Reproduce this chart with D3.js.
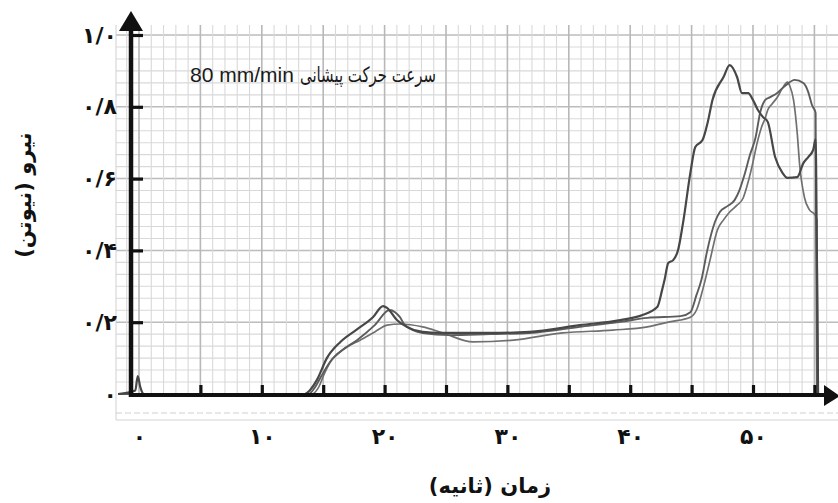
<!DOCTYPE html>
<html>
<head>
<meta charset="utf-8">
<script src="https://cdn.jsdelivr.net/npm/d3@7"></script>
<style>
body { margin:0; background:#fff; }
</style>
</head>
<body>
<script>
// force (N) vs time (s), three runs at 80 mm/min
const curveA = [[-1.7,0],[-0.3,0.01],[-0.1,0.05],[0.1,0.02],[0.4,0],[13.5,0],[13.9,0.01],[14.5,0.04],[15.3,0.10],[16.4,0.145],[17.75,0.18],[19.05,0.214],[19.87,0.245],[20.2,0.24],[21.0,0.206],[21.8,0.187],[23.1,0.173],[24.5,0.17],[28.6,0.17],[31.8,0.173],[35.9,0.192],[39.2,0.206],[41.0,0.22],[42.2,0.242],[42.6,0.29],[42.8,0.318],[43.1,0.365],[43.5,0.373],[43.9,0.401],[44.3,0.476],[44.9,0.616],[45.3,0.688],[45.9,0.708],[46.3,0.755],[46.7,0.819],[47.6,0.883],[48.1,0.916],[48.7,0.883],[49.1,0.838],[49.6,0.838],[50.0,0.819],[50.4,0.791],[50.8,0.772],[51.2,0.758],[51.8,0.66],[52.4,0.616],[52.8,0.602],[53.6,0.604],[54.1,0.643],[54.5,0.66],[54.9,0.68],[55.1,0.71],[55.2,0.40],[55.3,0]];
const curveB = [[-1.7,0],[13.8,0],[14.3,0.017],[14.9,0.053],[15.55,0.089],[16.6,0.123],[17.75,0.15],[19.2,0.192],[20.4,0.234],[20.85,0.228],[21.25,0.214],[21.65,0.192],[23.1,0.17],[25.3,0.164],[28.6,0.167],[31.8,0.17],[35.9,0.187],[39.2,0.201],[41.4,0.212],[44.1,0.217],[44.9,0.228],[45.4,0.276],[45.8,0.318],[46.25,0.396],[46.9,0.479],[47.3,0.507],[47.95,0.524],[48.5,0.54],[48.9,0.568],[49.3,0.61],[49.75,0.666],[50.2,0.713],[50.6,0.786],[51.0,0.819],[51.4,0.827],[51.95,0.838],[52.6,0.858],[53.4,0.875],[54.1,0.866],[54.5,0.841],[54.8,0.805],[55.1,0.783],[55.2,0]];
const curveC = [[-1.7,0],[14.1,0],[14.6,0.017],[15.15,0.061],[15.8,0.10],[16.8,0.128],[18.0,0.15],[19.2,0.173],[20.2,0.192],[21.25,0.195],[23.1,0.187],[24.75,0.17],[27.2,0.145],[30.5,0.15],[34.5,0.17],[38.6,0.178],[41.4,0.187],[43.2,0.201],[44.9,0.214],[45.4,0.234],[45.9,0.29],[46.5,0.373],[47.1,0.457],[47.6,0.485],[48.1,0.507],[48.7,0.526],[49.2,0.546],[49.6,0.59],[50.0,0.646],[50.3,0.694],[50.7,0.744],[51.0,0.769],[51.2,0.791],[51.55,0.808],[51.95,0.825],[52.4,0.852],[52.8,0.869],[53.0,0.858],[53.3,0.819],[53.6,0.727],[53.8,0.638],[54.2,0.546],[54.6,0.513],[55.05,0.499],[55.2,0.485],[55.3,0]];

const xTicks = [0, 10, 20, 30, 40, 50];
const xLabels = ["۰", "۱۰", "۲۰", "۳۰", "۴۰", "۵۰"];
const xMinorTicks = [5, 10, 15, 20, 25, 30, 35, 40, 45, 50, 55];
const yTicks = [0, 0.2, 0.4, 0.6, 0.8, 1.0];
const yLabels = ["۰", "۰/۲", "۰/۴", "۰/۶", "۰/۸", "۱/۰"];

const titleFa = "سرعت حرکت  پیشانی";
const titleEn = "80 mm/min";
const xTitle = "زمان (ثانیه)";
const yTitle = "نیرو (نیوتن)";

let width = 838, height = 503;

var svg = d3.select("body")
.append("svg")
.attr("width", width)
.attr("height", height);

let x = d3.scaleLinear().domain([0, 50]).range([139, 753]);
let y = d3.scaleLinear().domain([0, 1]).range([394, 35]);

const axisX = 131;   // where the drawn y axis sits
const paperTop = 25, paperLeft = 116;

// graph paper
let paper = svg.append("g");

paper.selectAll("line.h")
.data(d3.range(1, 31))
.join("line")
.attr("x1", paperLeft).attr("x2", width)
.attr("y1", d => y(d/30)).attr("y2", d => y(d/30))
.attr("stroke", d => d%6 === 0 ? "#bcbcbc" : "#d9d9d9")
.attr("stroke-width", d => d%6 === 0 ? 1.5 : 1.1);

paper.selectAll("line.v")
.data(d3.range(-1, 58))
.join("line")
.attr("x1", d => x(d)).attr("x2", d => x(d))
.attr("y1", paperTop).attr("y2", y(0))
.attr("stroke", d => d%5 === 0 ? "#b8b8b8" : "#d9d9d9")
.attr("stroke-width", d => d%5 === 0 ? 1.6 : 1.1);

// strip under the axis
paper.append("line")
.attr("x1", paperLeft).attr("x2", paperLeft)
.attr("y1", paperTop).attr("y2", 420)
.attr("stroke", "#d0d0d0");
paper.append("line")
.attr("x1", paperLeft).attr("x2", width)
.attr("y1", 420).attr("y2", 420)
.attr("stroke", "#d4d4d4").attr("stroke-width", 1.2);
paper.append("line")
.attr("x1", paperLeft).attr("x2", width)
.attr("y1", 413).attr("y2", 413)
.attr("stroke", "#cfcfcf")
.attr("stroke-dasharray", "6,3");

// curves
let line = d3.line()
.x(d => x(d[0]))
.y(d => y(d[1]))
.curve(d3.curveMonotoneX);

let curves = [
  {data: curveC, color: "#707070", w: 1.7},
  {data: curveB, color: "#5c5c5c", w: 1.9},
  {data: curveA, color: "#474747", w: 2.2}
];

svg.append("g")
.attr("fill", "none")
.selectAll("path")
.data(curves)
.join("path")
.attr("d", d => line(d.data))
.attr("stroke", d => d.color)
.attr("stroke-width", d => d.w)
.attr("stroke-linejoin", "round");

// axes
let labelFont = "'DejaVu Sans', sans-serif";

let gy = svg.append("g")
.attr("transform", "translate(" + axisX + ",0)")
.call(d3.axisLeft(y)
  .tickValues(yTicks)
  .tickFormat((d, i) => yLabels[i])
  .tickSizeInner(-12)
  .tickSizeOuter(0)
  .tickPadding(14));
gy.select(".domain").remove();
gy.selectAll(".tick line").attr("stroke", "#111").attr("stroke-width", 3.2)
.filter(d => d === 0).remove();
gy.selectAll(".tick text")
.attr("font-family", labelFont)
.attr("font-weight", "bold")
.attr("font-size", 22)
.attr("fill", "#111");

let gxt = svg.append("g")
.attr("transform", "translate(0," + y(0) + ")")
.call(d3.axisBottom(x)
  .tickValues(xMinorTicks)
  .tickFormat("")
  .tickSizeInner(-9)
  .tickSizeOuter(0));
gxt.select(".domain").remove();
gxt.selectAll(".tick line").attr("stroke", "#111").attr("stroke-width", 3.2);

let gxl = svg.append("g")
.attr("transform", "translate(0," + y(0) + ")")
.call(d3.axisBottom(x)
  .tickValues(xTicks)
  .tickFormat((d, i) => xLabels[i])
  .tickSize(0)
  .tickPadding(34));
gxl.select(".domain").remove();
gxl.selectAll(".tick text")
.attr("font-family", labelFont)
.attr("font-weight", "bold")
.attr("font-size", 22)
.attr("fill", "#111");

// axis lines with arrows
svg.append("line")
.attr("x1", axisX).attr("x2", axisX)
.attr("y1", y(0) + 3).attr("y2", 28)
.attr("stroke", "#111").attr("stroke-width", 4.5);
svg.append("path")
.attr("d", "M" + (axisX-12) + ",31 L" + (axisX+12) + ",31 L" + axisX + ",11 Z")
.attr("fill", "#111");

svg.append("line")
.attr("x1", axisX - 2).attr("x2", 828)
.attr("y1", y(0) + 1).attr("y2", y(0) + 1)
.attr("stroke", "#111").attr("stroke-width", 4.2);
svg.append("path")
.attr("d", "M824," + (y(0)-9) + " L824," + (y(0)+12) + " L840," + (y(0)+2) + " Z")
.attr("fill", "#111");

// texts
svg.append("text")
.attr("x", 190)
.attr("y", 82)
.attr("font-family", "'Liberation Sans', sans-serif")
.attr("font-size", 21)
.attr("fill", "#1a1a1a")
.text(titleEn);

svg.append("text")
.attr("x", 300)
.attr("y", 82)
.attr("font-family", labelFont)
.attr("font-size", 21)
.attr("textLength", 136)
.attr("lengthAdjust", "spacingAndGlyphs")
.attr("fill", "#1a1a1a")
.text(titleFa);

svg.append("text")
.attr("x", 490)
.attr("y", 493)
.attr("direction", "rtl")
.attr("text-anchor", "middle")
.attr("font-family", labelFont)
.attr("font-weight", "bold")
.attr("font-size", 21)
.attr("fill", "#111")
.text(xTitle);

svg.append("text")
.attr("transform", "translate(31,195) rotate(-90)")
.attr("direction", "rtl")
.attr("text-anchor", "middle")
.attr("font-family", labelFont)
.attr("font-weight", "bold")
.attr("font-size", 21)
.attr("fill", "#111")
.text(yTitle);
</script>
</body>
</html>
